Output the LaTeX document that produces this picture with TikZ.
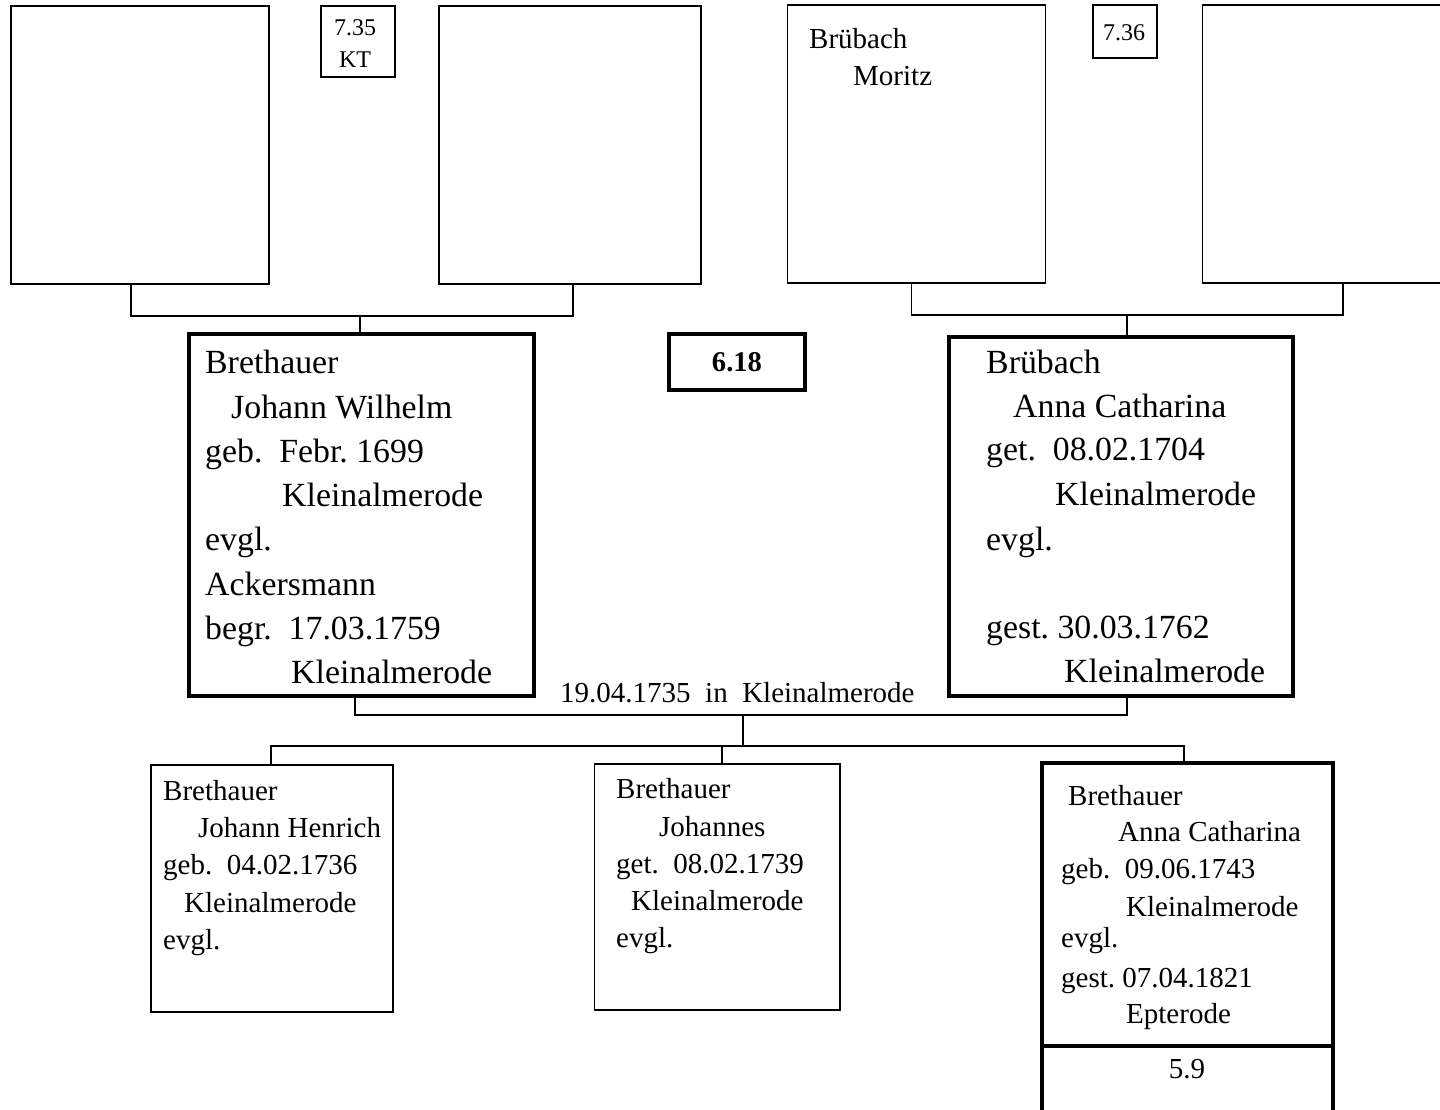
\documentclass[tikz,border=0pt]{standalone}
\usepackage{fontspec}
\setmainfont{Liberation Serif}
\frenchspacing
\begin{document}
\begin{tikzpicture}[x=1pt,y=-1pt,
  box/.style={draw, line width=1.8pt, inner sep=0pt, outer sep=0pt},
  heavy/.style={draw, line width=3.8pt, inner sep=0pt, outer sep=0pt},
  link/.style={line width=1.8pt},
  big/.style={font=\fontsize{33.8}{40}\selectfont, inner sep=0pt, anchor=base west},
  mid/.style={font=\fontsize{29}{34}\selectfont, inner sep=0pt, anchor=base west},
  midc/.style={font=\fontsize{29}{34}\selectfont, inner sep=0pt, anchor=base},
  small/.style={font=\fontsize{24}{28}\selectfont, inner sep=0pt, anchor=base}]
\useasboundingbox (0,0) rectangle (1440,1110);

% grandparents, father's side
\node[box, minimum width=258, minimum height=278] (gf1) at (140,145) {};
\node[box, minimum width=74, minimum height=71] (kt) at (358,41.5) {};
\node[box, minimum width=262, minimum height=278] (gm1) at (570,145) {};
\node[small] (kta) at (355,36) {7.35};
\node[small] (ktb) at (355,68) {KT};

% grandparents, mother's side
\node[box, minimum width=258, minimum height=278] (gf2) at (916.5,144) {};
\node[box, minimum width=64, minimum height=53] (no736) at (1125,31.5) {};
\node[box, minimum width=242.5, minimum height=278] (gm2) at (1323.75,144) {};
\node[mid] (gf2a) at (809,49) {Brübach};
\node[mid] (gf2b) at (853,86) {Moritz};
\node[small] (no736t) at (1124,41) {7.36};

% parents
\node[heavy, minimum width=345, minimum height=362] (father) at (361.5,515) {};
\node[heavy, minimum width=136, minimum height=56] (no618) at (737,362) {};
\node[heavy, minimum width=344, minimum height=359] (mother) at (1121,516.5) {};
\node[font=\fontsize{28.6}{34}\selectfont\bfseries, inner sep=0pt, anchor=base] (no618t) at (737,371) {6.18};

\node[big] (fa1) at (205,373) {Brethauer};
\node[big] (fa2) at (231,418) {Johann Wilhelm};
\node[big] (fa3) at (205,462) {geb.~ Febr. 1699};
\node[big] (fa4) at (282,506) {Kleinalmerode};
\node[big] (fa5) at (205,550) {evgl.};
\node[big] (fa6) at (205,595) {Ackersmann};
\node[big] (fa7) at (205,639) {begr.~ 17.03.1759};
\node[big] (fa8) at (291,683) {Kleinalmerode};

\node[big] (mo1) at (986,373) {Brübach};
\node[big] (mo2) at (1013,417) {Anna Catharina};
\node[big] (mo3) at (986,460) {get.~ 08.02.1704};
\node[big] (mo4) at (1055,505) {Kleinalmerode};
\node[big] (mo5) at (986,550) {evgl.};
\node[big] (mo6) at (986,638) {gest. 30.03.1762};
\node[big] (mo7) at (1064,682) {Kleinalmerode};

\node[mid] (wed) at (560,702) {19.04.1735~ in~ Kleinalmerode};

% children
\node[box, minimum width=242, minimum height=247] (child1) at (272,888.5) {};
\node[box, minimum width=245.5, minimum height=246] (child2) at (717.25,887) {};
\node[heavy, minimum width=291, minimum height=283] (child3) at (1187.5,904.5) {};
\node[heavy, minimum width=291, minimum height=74] (child3b) at (1187.5,1083) {};

\node[mid] (ca1) at (163,800) {Brethauer};
\node[mid] (ca2) at (198,837) {Johann Henrich};
\node[mid] (ca3) at (163,874) {geb.~ 04.02.1736};
\node[mid] (ca4) at (184,912) {Kleinalmerode};
\node[mid] (ca5) at (163,949) {evgl.};

\node[mid] (cb1) at (616,798) {Brethauer};
\node[mid] (cb2) at (659,836) {Johannes};
\node[mid] (cb3) at (616,873) {get.~ 08.02.1739};
\node[mid] (cb4) at (631,910) {Kleinalmerode};
\node[mid] (cb5) at (616,947) {evgl.};

\node[mid] (cc1) at (1068,805) {Brethauer};
\node[mid] (cc2) at (1118,841) {Anna Catharina};
\node[mid] (cc3) at (1061,878) {geb.~ 09.06.1743};
\node[mid] (cc4) at (1126,916) {Kleinalmerode};
\node[mid] (cc5) at (1061,947) {evgl.};
\node[mid] (cc6) at (1061,987) {gest. 07.04.1821};
\node[mid] (cc7) at (1126,1023) {Epterode};
\node[midc] (cc8) at (1187,1078) {5.9};

% connectors
\coordinate (j1) at (360,316);
\coordinate (j2) at (1127,315);
\coordinate (m) at (743,715);
\coordinate (k) at (743,746);

\draw[link] ([xshift=-9]gf1.south) |- (j1) -| ([xshift=3]gm1.south);
\draw[link] (j1) -- (j1 |- father.north);
\draw[link] ([xshift=-5]gf2.south) |- (j2) -| ([xshift=19.25]gm2.south);
\draw[link] (j2) -- (j2 |- mother.north);

\draw[link] ([xshift=-6.5]father.south) |- (m) -| ([xshift=6]mother.south);
\draw[link] (m) -- (k);
\draw[link] (k) -| ([xshift=-1]child1.north);
\draw[link] (k) -| ([xshift=4.75]child2.north);
\draw[link] (k) -| ([xshift=-3.5]child3.north);
\end{tikzpicture}
\end{document}
